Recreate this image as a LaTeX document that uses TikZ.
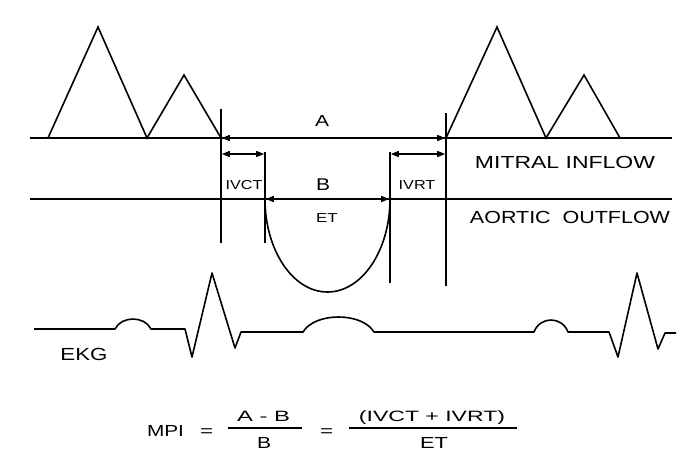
\documentclass[tikz,border=0pt]{standalone}
\usepackage{fontspec}
\setmainfont{Liberation Sans}
\usetikzlibrary{arrows.meta}
\newcommand\txw[2]{\resizebox{#1pt}{\height}{#2}}
\newcommand\fsz[1]{\fontsize{#1}{#1}\selectfont}
\begin{document}
\begin{tikzpicture}[x=1pt,y=-1pt,
  ln/.style={line width=1.6pt, line join=miter},
  dimarrow/.style={line width=1.3pt, >={Triangle[length=8pt,width=6pt]}, <->, shorten <=0.8pt, shorten >=0.8pt},
  lbl/.style={inner sep=0pt, anchor=base},
]
\useasboundingbox (0,0) rectangle (694,469);
\fill[white] (0,0) rectangle (694,469);
% baselines
\coordinate (mL) at (30,138); \coordinate (mR) at (672,138);
\coordinate (aL) at (30,199); \coordinate (aR) at (672,199);
\draw[ln] (mL) -- (mR);
\draw[ln] (aL) -- (aR);
% mitral waves
\draw[ln] (48,138) -- (98,27) -- (147,138) -- (184,75) -- (221,138);
\draw[ln] (446,138) -- (497,27) -- (546,138) -- (584,75) -- (620,138);
% verticals
\coordinate (v1t) at (221,109); \coordinate (v1b) at (221,243);
\coordinate (v2t) at (265,152); \coordinate (v2b) at (265,243);
\coordinate (v3t) at (390,152); \coordinate (v3b) at (390,283);
\coordinate (v4t) at (446,113); \coordinate (v4b) at (446,286);
\draw[ln] (v1t) -- (v1b);
\draw[ln] (v2t) -- (v2b);
\draw[ln] (v3t) -- (v3b);
\draw[ln] (v4t) -- (v4b);
% aortic outflow curve
\draw[ln] (265,199) arc[start angle=180, end angle=0, x radius=62.5, y radius=93];
% dimension arrows
\coordinate (a1) at (221,138); \coordinate (a2) at (446,138);
\coordinate (i1) at (221,154); \coordinate (i2) at (265,154);
\coordinate (r1) at (390,154); \coordinate (r2) at (446,154);
\coordinate (e1) at (265,199); \coordinate (e2) at (390,199);
\draw[dimarrow] (a1) -- (a2);
\draw[dimarrow] (i1) -- (i2);
\draw[dimarrow] (r1) -- (r2);
\draw[dimarrow] (e1) -- (e2);
% labels
\node[lbl] (tA) at (322,126) {\fsz{16}\txw{14}{A}};
\node[lbl] (tB) at (323,190) {\fsz{17}\txw{14}{B}};
\node[lbl] (tIVCT) at (244,189) {\fsz{13}\txw{36.7}{IVCT}};
\node[lbl] (tIVRT) at (417,189) {\fsz{13}\txw{36.7}{IVRT}};
\node[lbl] (tET) at (327,222) {\fsz{13}\txw{21.7}{ET}};
\node[lbl] (tMI) at (565,168) {\fsz{17.5}\txw{180}{MITRAL INFLOW}};
\node[lbl] (tAO) at (570,223) {\fsz{17.5}\txw{200}{AORTIC\ \ OUTFLOW}};
% EKG
\draw[ln, line join=round] (34,329) -- (115,329) .. controls (121.5,315.7) and (144.5,315.7) .. (151,329) -- (185,329) -- (192,357) -- (212,273) -- (235,348) -- (241,332) -- (303,332) .. controls (315,312) and (362,312) .. (374,332) -- (534,332) .. controls (540,316) and (562,316) .. (568,332) -- (609,332) -- (618,357) -- (637,273) -- (658,349) -- (665,333) -- (676,333);
\node[lbl] (tEKG) at (84,360) {\fsz{17.5}\txw{47}{EKG}};
% formula
\node[lbl] (fMPI) at (165.5,436) {\fsz{16}\txw{37}{MPI}};
\node[lbl] (fEq1) at (206.5,436) {\fsz{16}\txw{13}{=}};
\coordinate (b1L) at (228,428); \coordinate (b1R) at (302,428);
\draw[line width=1.4pt] (b1L) -- (b1R);
\node[lbl] (fNum1) at (263.5,421) {\fsz{15}\txw{53}{A - B}};
\node[lbl] (fDen1) at (264,448) {\fsz{16}\txw{14}{B}};
\node[lbl] (fEq2) at (326.5,436) {\fsz{16}\txw{13}{=}};
\coordinate (b2L) at (349,428); \coordinate (b2R) at (517,428);
\draw[line width=1.4pt] (b2L) -- (b2R);
\node[lbl] (fNum2) at (432,421) {\fsz{15}\txw{146}{(IVCT + IVRT)}};
\node[lbl] (fDen2) at (434,448) {\fsz{16}\txw{28}{ET}};
\end{tikzpicture}
\end{document}
